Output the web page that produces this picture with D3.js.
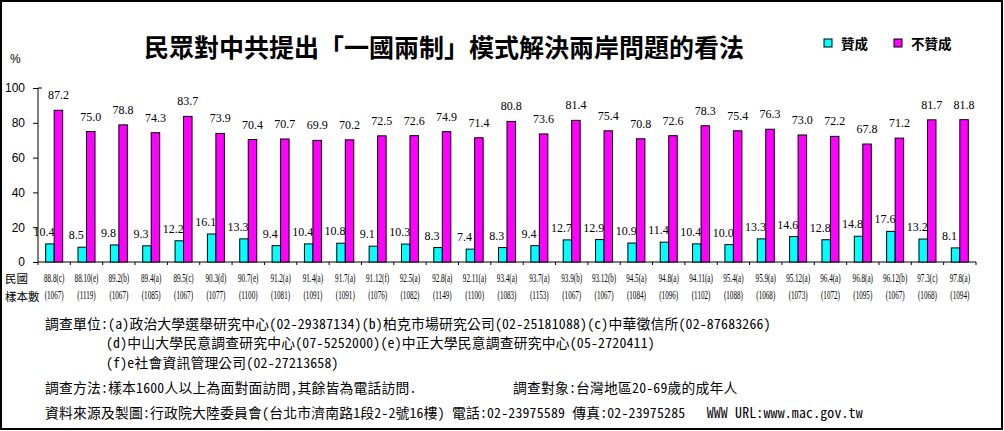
<!DOCTYPE html>
<html><head><meta charset="utf-8">
<script src="https://cdn.jsdelivr.net/npm/d3@7"></script>
<style>
html,body{margin:0;padding:0;background:#fff;}
svg{display:block;}
.fn{font-feature-settings:"hwid" 1;}
</style></head>
<body>
<svg id="chart" width="1004" height="431"></svg>
<script>
const categories = ["88.8(c)","88.10(e)","89.2(b)","89.4(a)","89.5(c)","90.3(d)","90.7(e)","91.2(a)","91.4(a)","91.7(a)","91.12(f)","92.5(a)","92.8(a)","92.11(a)","93.4(a)","93.7(a)","93.9(b)","93.12(b)","94.5(a)","94.8(a)","94.11(a)","95.4(a)","95.9(a)","95.12(a)","96.4(a)","96.8(a)","96.12(b)","97.3(c)","97.8(a)"];
const samples = [1067,1119,1067,1085,1067,1077,1100,1081,1091,1091,1076,1082,1149,1100,1083,1153,1067,1067,1084,1096,1102,1088,1068,1073,1072,1095,1067,1068,1094];
const agree = [10.4,8.5,9.8,9.3,12.2,16.1,13.3,9.4,10.4,10.8,9.1,10.3,8.3,7.4,8.3,9.4,12.7,12.9,10.9,11.4,10.4,10.0,13.3,14.6,12.8,14.8,17.6,13.2,8.1];
const disagree = [87.2,75.0,78.8,74.3,83.7,73.9,70.4,70.7,69.9,70.2,72.5,72.6,74.9,71.4,80.8,73.6,81.4,75.4,70.8,72.6,78.3,75.4,76.3,73.0,72.2,67.8,71.2,81.7,81.8];
const yTicks = [0,20,40,60,80,100];
const seriesNames = ["贊成","不贊成"];
const seriesColors = ["#00FFFF","#FF00FF"];
const title = "民眾對中共提出「一國兩制」模式解決兩岸問題的看法";
const footnotes = [
  {x:45, y:323, t:"調查單位：(a)政治大學選舉研究中心(02-29387134)(b)柏克市場研究公司(02-25181088)(c)中華徵信所(02-87683266)"},
  {x:106, y:342, t:"(d)中山大學民意調查研究中心(07-5252000)(e)中正大學民意調查研究中心(05-2720411)"},
  {x:106, y:362, t:"(f)e社會資訊管理公司(02-27213658)"},
  {x:45, y:387, t:"調查方法：樣本1600人以上為面對面訪問,其餘皆為電話訪問."},
  {x:513, y:387, t:"調查對象：台灣地區20-69歲的成年人"},
  {x:45, y:412, t:"資料來源及製圖：行政院大陸委員會(台北市濟南路1段2-2號16樓) 電話:02-23975589 傳真:02-23975285   WWW URL:www.mac.gov.tw"}
];

const svg = d3.select("#chart");
const CJK = "'Noto Sans CJK TC','Noto Sans CJK SC',sans-serif";
const SERIF = "'Liberation Serif','Times New Roman',serif";
const SANS = "'Liberation Sans',Arial,sans-serif";

svg.append("rect").attr("x",1).attr("y",1).attr("width",1001).attr("height",428)
  .attr("fill","#fff").attr("stroke","#000").attr("stroke-width",2);

const pLeft = 38, pRight = 976, pTop = 88, pBottom = 262;
const x = d3.scaleBand().domain(categories).range([pLeft,pRight]);
const y = d3.scaleLinear().domain([0,100]).range([pBottom,pTop]);
const barW = 8.5;
const xs = d3.scaleBand().domain([0,1]).range([-barW, barW]);

// title
svg.append("text").attr("x",144).attr("y",46).attr("dominant-baseline","central")
  .attr("font-family",CJK).attr("font-weight","bold").attr("font-size",25)
  .text(title);

// legend
const lg = svg.append("g");
const legendX = [824, 894];
seriesNames.forEach((n,i)=>{
  lg.append("rect").attr("x",legendX[i]).attr("y",39).attr("width",8).attr("height",8)
    .attr("fill",seriesColors[i]).attr("stroke","#000").attr("stroke-width",1);
  lg.append("text").attr("x",legendX[i]+17).attr("y",43).attr("dominant-baseline","central")
    .attr("font-family",CJK).attr("font-weight","bold").attr("font-size",13.5).text(n);
});

// % label
svg.append("text").attr("x",10).attr("y",59).attr("dominant-baseline","central")
  .attr("font-family",SANS).attr("font-size",12).text("%");

// y axis
const yAxis = svg.append("g").attr("transform",`translate(${pLeft},0)`)
  .call(d3.axisLeft(y).tickValues(yTicks).tickSize(5).tickPadding(8));
yAxis.select(".domain").attr("stroke","#000").attr("d",`M0,${pTop}V${pBottom}`);
yAxis.selectAll(".tick line").attr("stroke","#000");
yAxis.selectAll(".tick text").attr("font-family",SANS).attr("font-size",12).attr("fill","#000");
yAxis.append("line").attr("x1",0).attr("x2",4).attr("y1",pTop).attr("y2",pTop).attr("stroke","#000");

// x axis
const xAxis = svg.append("g").attr("transform",`translate(0,${pBottom})`);
xAxis.append("line").attr("x1",pLeft).attr("x2",pRight).attr("y1",0).attr("y2",0).attr("stroke","#000");
xAxis.selectAll(".xt").data(categories.concat(["__end"])).enter().append("line")
  .attr("x1",(d,i)=> i<categories.length ? x(d) : pRight)
  .attr("x2",(d,i)=> i<categories.length ? x(d) : pRight)
  .attr("y1",0).attr("y2",3).attr("stroke","#000");

// bars
const data = categories.map((c,i)=>({c, v:[agree[i],disagree[i]]}));
const groups = svg.append("g").selectAll("g").data(data).enter().append("g")
  .attr("transform",d=>`translate(${x(d.c)+x.bandwidth()/2},0)`);
const gap = [8, 11];
const labelShift = [-6, 0];
groups.selectAll("text").data(d=>d.v.map((v,k)=>({v,k}))).enter().append("text")
  .attr("x",d=>xs(d.k)+xs.bandwidth()/2+labelShift[d.k]).attr("y",d=>y(d.v)-gap[d.k])
  .attr("text-anchor","middle").attr("font-family",SERIF).attr("font-size",12)
  .text(d=>d.v.toFixed(1));
groups.selectAll("rect").data(d=>d.v.map((v,k)=>({v,k}))).enter().append("rect")
  .attr("x",d=>xs(d.k)).attr("width",xs.bandwidth())
  .attr("y",d=>y(d.v)).attr("height",d=>pBottom-y(d.v))
  .attr("fill",d=>seriesColors[d.k]).attr("stroke","#000").attr("stroke-width",1);

// category labels
const catG = svg.append("g");
const sc = 0.62;
categories.forEach((c,i)=>{
  const cx = x(c)+x.bandwidth()/2;
  catG.append("text").attr("transform",`translate(${cx},278) scale(${sc},1)`)
    .attr("text-anchor","middle").attr("dominant-baseline","central")
    .attr("font-family",SERIF).attr("font-size",11.5).text(c);
  catG.append("text").attr("transform",`translate(${cx},295) scale(${sc},1)`)
    .attr("text-anchor","middle").attr("dominant-baseline","central")
    .attr("font-family",SERIF).attr("font-size",11.5).text(`(${samples[i]})`);
});
svg.append("text").attr("x",5).attr("y",278).attr("dominant-baseline","central")
  .attr("font-family",CJK).attr("font-size",11.5).text("民國");
svg.append("text").attr("x",5).attr("y",296).attr("dominant-baseline","central")
  .attr("font-family",CJK).attr("font-size",11.5).text("樣本數");

// footnotes
svg.append("g").selectAll("text").data(footnotes).enter().append("text")
  .attr("class","fn")
  .attr("x",d=>d.x).attr("y",d=>d.y).attr("dominant-baseline","central")
  .attr("font-family",CJK).attr("font-size",13.8).attr("letter-spacing",0.2)
  .style("white-space","pre")
  .text(d=>d.t);
</script>
</body></html>
